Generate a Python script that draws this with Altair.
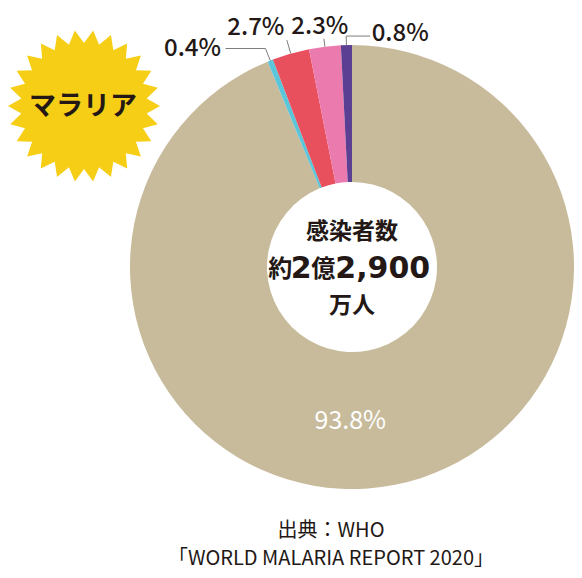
import math
import altair as alt
import pandas as pd

# ---------------- data ----------------
categories = ["区分A", "区分B", "区分C", "区分D", "区分E"]
shares = [93.8, 0.4, 2.7, 2.3, 0.8]
share_labels = ["93.8%", "0.4%", "2.7%", "2.3%", "0.8%"]
colors = ["#C8BB9B", "#5BC5DA", "#E9505D", "#EB7BAE", "#5B3F92"]

badge_text = "マラリア"
center_line1 = "感染者数"
center_num_parts = ["約", "2", "億", "2,900"]
center_line3 = "万人"
source_lines = ["出典：WHO", "「WORLD MALARIA REPORT 2020」"]

# ---------------- layout (page pixel coords; chart origin at OFF) ----------------
OFF = 8
W, H = 566, 562
CXP, CYP = 352.0, 267.0          # donut centre on the page
R_OUT, R_IN = 222, 85
CX, CY = CXP - OFF, CYP - OFF
INK = "#231815"
JP = "Noto Sans CJK JP"

# per small slice: radial leader length, horizontal leader length, label offset from elbow
leader_layout = {
    "0.4%": (13, -40, (-73, 0)),
    "2.7%": (14, 0, (-31, -12)),
    "2.3%": (8, 0, (-4, -12)),
    "0.8%": (9, 24, (54, -2)),
}

df = pd.DataFrame({
    "cat": categories,
    "share": shares,
    "label": share_labels,
    "order": list(range(len(categories))),
})

total = sum(shares)
cum = 0.0
rule_rows, label_rows = [], []
for lab, v in zip(share_labels, shares):
    start = cum
    cum += v
    if lab not in leader_layout:
        continue
    mid = (start + cum) / 2 / total * 2 * math.pi
    sx, sy = math.sin(mid), -math.cos(mid)
    ax, ay = CX + R_OUT * sx, CY + R_OUT * sy
    rl, hl, (ox, oy) = leader_layout[lab]
    ex, ey = ax + rl * sx, ay + rl * sy
    rule_rows.append({"x": ax, "y": ay, "x2": ex, "y2": ey})
    if hl:
        rule_rows.append({"x": ex, "y": ey, "x2": ex + hl, "y2": ey})
    label_rows.append({"x": ex + ox, "y": ey + oy, "t": lab})
rules_df = pd.DataFrame(rule_rows)
labels_df = pd.DataFrame(label_rows)

n_pts = 26
pts = []
for i in range(2 * n_pts):
    a = (i + 1) * math.pi / n_pts
    r = 1.0 if i % 2 == 0 else 0.83
    pts.append((r * math.sin(a), -r * math.cos(a)))
star_path = "M" + " L".join(f"{x:.4f},{y:.4f}" for x, y in pts) + " Z"


def text_layer(s, x, y, size, weight="normal", color=INK, font=JP, align="center"):
    return alt.Chart(alt.Data(values=[{"t": s}])).mark_text(
        font=font, fontSize=size, fontWeight=weight, color=color,
        align=align, baseline="middle"
    ).encode(text="t:N", x=alt.value(x - OFF), y=alt.value(y - OFF))


star = alt.Chart(alt.Data(values=[{"a": 1}])).mark_point(
    shape=star_path, size=152 * 152, filled=True, color="#F6CE16", opacity=1, strokeWidth=0
).encode(x=alt.value(84 - OFF), y=alt.value(106 - OFF))

arcs = alt.Chart(df).mark_arc(radius=R_OUT, radius2=R_IN, strokeWidth=0).encode(
    theta=alt.Theta("share:Q", stack=True),
    order=alt.Order("order:Q"),
    color=alt.Color("cat:N", scale=alt.Scale(domain=categories, range=colors), legend=None),
    x=alt.value(CX), y=alt.value(CY),
)

leaders = alt.Chart(rules_df).mark_rule(color="#7d7d7d", strokeWidth=1).encode(
    x=alt.X("x:Q", scale=None, axis=None), y=alt.Y("y:Q", scale=None, axis=None),
    x2="x2:Q", y2="y2:Q",
)

labels = alt.Chart(labels_df).mark_text(
    font=JP, fontSize=24, fontWeight=500, color=INK, baseline="middle"
).encode(
    x=alt.X("x:Q", scale=None, axis=None), y=alt.Y("y:Q", scale=None, axis=None), text="t:N"
)

layers = [
    star,
    text_layer(badge_text, 83, 107, 27, "bold"),
    arcs,
    leaders,
    labels,
    text_layer(share_labels[0], CXP - 1.7, CYP + 154, 25, "normal", "white"),
    text_layer(center_line1, CXP, CYP - 35, 23, "bold"),
    text_layer(center_num_parts[0], CXP - 71.7, CYP + 3, 24, "bold"),
    text_layer(center_num_parts[1], CXP - 50.7, CYP + 2, 30, "bold", font="DejaVu Sans"),
    text_layer(center_num_parts[2], CXP - 28.7, CYP + 3, 24, "bold"),
    text_layer(center_num_parts[3], CXP - 16.7, CYP + 2, 30, "bold", font="DejaVu Sans", align="left"),
    text_layer(center_line3, CXP, CYP + 39, 23, "bold"),
    text_layer(source_lines[0], 331, 531, 20),
    text_layer(source_lines[1], 331, 559, 20),
]

chart = alt.layer(*layers).properties(
    width=W, height=H, autosize="none", padding=0, background="white"
).configure_view(stroke=None)

chart.save("out.html", embed_options={"renderer": "svg", "actions": False})
